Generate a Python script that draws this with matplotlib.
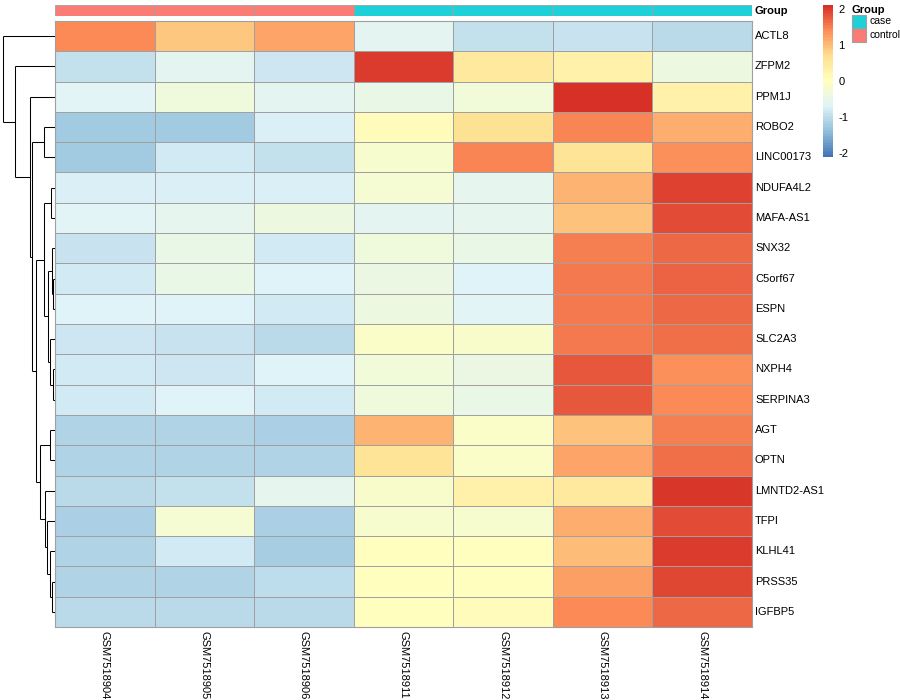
import matplotlib
matplotlib.use('Agg')
import matplotlib.pyplot as plt
from matplotlib.colors import LinearSegmentedColormap, Normalize
from matplotlib.patches import Rectangle
import matplotlib.colorbar as mcolorbar

plt.rcParams['font.family'] = ['Liberation Sans', 'DejaVu Sans']
plt.rcParams['axes.unicode_minus'] = False

genes = ['ACTL8', 'ZFPM2', 'PPM1J', 'ROBO2', 'LINC00173', 'NDUFA4L2', 'MAFA-AS1',
         'SNX32', 'C5orf67', 'ESPN', 'SLC2A3', 'NXPH4', 'SERPINA3', 'AGT', 'OPTN',
         'LMNTD2-AS1', 'TFPI', 'KLHL41', 'PRSS35', 'IGFBP5']
samples = ['GSM7518904', 'GSM7518905', 'GSM7518906', 'GSM7518911',
           'GSM7518912', 'GSM7518913', 'GSM7518914']
groups = ['control', 'control', 'control', 'case', 'case', 'case', 'case']

# row z-scores
values = [
    [1.40, 0.90, 1.20, -0.60, -0.95, -0.90, -1.05],
    [-0.95, -0.60, -0.85, 2.00, 0.50, 0.30, -0.40],
    [-0.65, -0.35, -0.60, -0.50, -0.30, 2.10, 0.30],
    [-1.25, -1.25, -0.75, 0.05, 0.65, 1.45, 1.10],
    [-1.25, -0.80, -0.95, -0.20, 1.45, 0.60, 1.35],
    [-0.72, -0.72, -0.72, -0.25, -0.55, 1.05, 1.95],
    [-0.65, -0.55, -0.40, -0.60, -0.55, 0.95, 1.85],
    [-0.90, -0.50, -0.80, -0.35, -0.50, 1.50, 1.65],
    [-0.80, -0.50, -0.70, -0.45, -0.70, 1.55, 1.70],
    [-0.70, -0.70, -0.80, -0.40, -0.65, 1.55, 1.65],
    [-0.85, -0.90, -1.05, -0.10, -0.15, 1.55, 1.60],
    [-0.80, -0.85, -0.70, -0.30, -0.45, 1.80, 1.35],
    [-0.80, -0.70, -0.80, -0.35, -0.50, 1.80, 1.40],
    [-1.10, -1.10, -1.15, 1.05, -0.10, 0.95, 1.50],
    [-1.10, -1.10, -1.10, 0.60, -0.10, 1.20, 1.60],
    [-1.05, -0.95, -0.55, -0.15, 0.30, 0.50, 2.05],
    [-1.15, -0.25, -1.15, -0.20, -0.20, 1.10, 1.85],
    [-1.10, -0.80, -1.20, 0.00, 0.00, 1.00, 2.00],
    [-1.10, -1.10, -1.00, 0.00, 0.00, 1.25, 1.90],
    [-1.05, -1.05, -1.05, 0.00, 0.05, 1.40, 1.65],
]

# row clustering: (left, right, height); leaves 0..19, merged clusters numbered from 20
merges = [
    (5, 6, 4.5), (8, 9, 2.3), (7, 21, 3.3), (11, 12, 2.0), (10, 23, 5.0),
    (22, 24, 7.0), (20, 25, 11.0), (13, 14, 5.0), (18, 19, 3.3), (17, 28, 5.0),
    (16, 29, 8.3), (15, 30, 10.0), (27, 31, 15.0), (26, 32, 19.0), (3, 4, 11.0),
    (34, 33, 23.0), (2, 35, 25.0), (1, 36, 40.0), (0, 37, 52.3),
]

group_colors = {'case': '#1ED0D8', 'control': '#FA7C74'}
pal = ['#4575B4', '#91BFDB', '#E0F3F8', '#FFFFBF', '#FEE090', '#FC8D59', '#D73027']
cmap = LinearSegmentedColormap.from_list('rdylbu', pal, N=100)
vmin, vmax = -2.1, 2.1
edge = '#a0a0a0'

W, H = 900, 700
fig = plt.figure(figsize=(9, 7), dpi=100)


def px_axes(x0, y0, x1, y1):
    return fig.add_axes([x0 / W, 1 - y1 / H, (x1 - x0) / W, (y1 - y0) / H])


nr, nc = len(genes), len(samples)

# heatmap
ax = px_axes(55, 21, 752, 627)
ax.pcolormesh(values, cmap=cmap, vmin=vmin, vmax=vmax, edgecolors=edge, linewidth=0.6)
ax.set_xlim(0, nc)
ax.set_ylim(nr, 0)
ax.set_xticks([])
ax.set_yticks([])
for s in ax.spines.values():
    s.set_color(edge)
    s.set_linewidth(0.8)
for i, g in enumerate(genes):
    ax.text(nc + 0.03, i + 0.5, g, ha='left', va='center', fontsize=8)
for j, s in enumerate(samples):
    ax.text(j + 0.5, nr + 0.12, s, ha='center', va='top', rotation=-90, fontsize=8)

# annotation bar
axa = px_axes(55, 5, 752, 16)
for j, g in enumerate(groups):
    axa.add_patch(Rectangle((j, 0), 1, 1, facecolor=group_colors[g], edgecolor=edge, linewidth=0.6))
axa.set_xlim(0, nc)
axa.set_ylim(0, 1)
axa.axis('off')
axa.text(nc + 0.03, 0.5, 'Group', ha='left', va='center', fontsize=8, fontweight='bold')

# row dendrogram
axd = px_axes(0, 21, 55, 627)
pos = {i: i + 0.5 for i in range(nr)}
hgt = {i: 0.0 for i in range(nr)}
for k, (a, b, h) in enumerate(merges):
    node = nr + k
    for c in (a, b):
        axd.plot([hgt[c], h], [pos[c], pos[c]], color='black', lw=0.75, solid_capstyle='butt')
    axd.plot([h, h], [pos[a], pos[b]], color='black', lw=0.75, solid_capstyle='butt')
    pos[node] = (pos[a] + pos[b]) / 2
    hgt[node] = h
axd.set_xlim(55, 0)
axd.set_ylim(nr, 0)
axd.axis('off')

# colour legend
axc = px_axes(823, 5, 833, 157)
cb = mcolorbar.ColorbarBase(axc, cmap=cmap, norm=Normalize(vmin, vmax), orientation='vertical')
cb.outline.set_visible(False)
cb.set_ticks([-2, -1, 0, 1, 2])
cb.ax.tick_params(length=0, labelsize=8, pad=4)

# group legend
fig.text(852 / W, 1 - 10 / H, 'Group', ha='left', va='center', fontsize=8, fontweight='bold')
for k, g in enumerate(['case', 'control']):
    y0 = 15 + k * 14
    fig.patches.append(Rectangle((852 / W, 1 - (y0 + 13) / H), 14 / W, 13 / H,
                                 transform=fig.transFigure, facecolor=group_colors[g],
                                 edgecolor=edge, linewidth=0.8))
    fig.text(869 / W, 1 - (y0 + 6.5) / H, g, ha='left', va='center', fontsize=7.5)

fig.savefig('out.png', dpi=100)
